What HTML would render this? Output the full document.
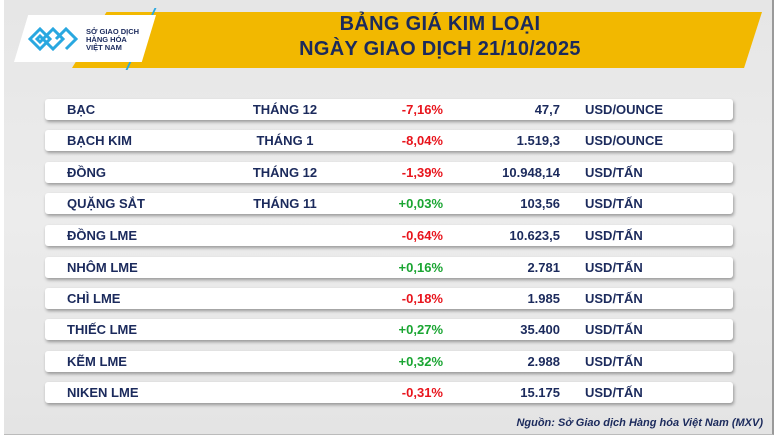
<!DOCTYPE html>
<html><head><meta charset="utf-8"><style>
body{margin:0;width:777px;height:437px;overflow:hidden;background:#fff;font-family:"Liberation Sans",sans-serif}
.bg{position:absolute;left:4px;top:0;width:768px;height:434px;background:linear-gradient(180deg,#e6e6e6,#ececec 50%,#e4e4e4);border-right:2px solid #9a9a9a;border-bottom:1px solid #bbb}
.ban{position:absolute;left:72px;top:12px;width:690px;height:56px;background:#f2b800;clip-path:polygon(5% 0,100% 0,97.4% 100%,0 100%)}
.logo{position:absolute;left:14px;top:15px;width:142px;height:47px;background:#fff;clip-path:polygon(10% 0,100% 0,90% 100%,0 100%)}
.t{position:absolute;left:180px;width:520px;text-align:center;color:#1b2a5c;font-weight:bold;font-size:20px;letter-spacing:0.3px}
.row{position:absolute;left:45px;width:688px;height:21px;background:#fff;border-radius:3px;box-shadow:1px 2px 3px rgba(0,0,0,.35);color:#1b2a5c;font-weight:bold;font-size:13px;line-height:21px}
.row span{position:absolute;top:0;white-space:nowrap}
.n{left:22px}.m{left:200px;width:80px;text-align:center}.p{right:290px}.v{right:173px}.u{left:540px}
.r{color:#e8141c}.g{color:#1aa532}
</style></head><body>
<div class="bg"></div>
<div class="ban"></div>
<div style="position:absolute;left:140px;top:8px;width:2px;height:62px;background:#29a8e0;transform:skewX(-25deg)"></div>
<div class="logo"></div>
<svg style="position:absolute;left:28px;top:27px" width="52" height="24" viewBox="0 0 52 24"><g fill="none" stroke="#29a8e0" stroke-width="3"><path d="M2 12 L12 2 L22 12 L12 22 Z"/><path d="M15 12 L25 2 L35 12 L25 22 Z"/><path d="M28 12 L38 2 L48 12 L38 22"/><path d="M9 12 L12 9 L15 12 L12 15Z"/></g></svg>
<div style="position:absolute;left:86px;top:28px;font-size:7.5px;line-height:8px;color:#1b2a5c;font-weight:bold">SỞ GIAO DỊCH<br>HÀNG HÓA<br>VIỆT NAM</div>
<div class="t" style="top:13px">BẢNG GIÁ KIM LOẠI</div>
<div class="t" style="top:38px">NGÀY GIAO DỊCH 21/10/2025</div>
<div class="row" style="top:99px"><span class="n">BẠC</span><span class="m">THÁNG 12</span><span class="p r">-7,16%</span><span class="v">47,7</span><span class="u">USD/OUNCE</span></div>
<div class="row" style="top:130px"><span class="n">BẠCH KIM</span><span class="m">THÁNG 1</span><span class="p r">-8,04%</span><span class="v">1.519,3</span><span class="u">USD/OUNCE</span></div>
<div class="row" style="top:162px"><span class="n">ĐỒNG</span><span class="m">THÁNG 12</span><span class="p r">-1,39%</span><span class="v">10.948,14</span><span class="u">USD/TẤN</span></div>
<div class="row" style="top:193px"><span class="n">QUẶNG SẮT</span><span class="m">THÁNG 11</span><span class="p g">+0,03%</span><span class="v">103,56</span><span class="u">USD/TẤN</span></div>
<div class="row" style="top:225px"><span class="n">ĐỒNG LME</span><span class="p r">-0,64%</span><span class="v">10.623,5</span><span class="u">USD/TẤN</span></div>
<div class="row" style="top:257px"><span class="n">NHÔM LME</span><span class="p g">+0,16%</span><span class="v">2.781</span><span class="u">USD/TẤN</span></div>
<div class="row" style="top:288px"><span class="n">CHÌ LME</span><span class="p r">-0,18%</span><span class="v">1.985</span><span class="u">USD/TẤN</span></div>
<div class="row" style="top:319px"><span class="n">THIẾC LME</span><span class="p g">+0,27%</span><span class="v">35.400</span><span class="u">USD/TẤN</span></div>
<div class="row" style="top:351px"><span class="n">KẼM LME</span><span class="p g">+0,32%</span><span class="v">2.988</span><span class="u">USD/TẤN</span></div>
<div class="row" style="top:382px"><span class="n">NIKEN LME</span><span class="p r">-0,31%</span><span class="v">15.175</span><span class="u">USD/TẤN</span></div>
<div style="position:absolute;right:14px;top:417px;font-size:11px;font-style:italic;font-weight:bold;color:#1b2a5c">Nguồn: Sở Giao dịch Hàng hóa Việt Nam (MXV)</div>
</body></html>
